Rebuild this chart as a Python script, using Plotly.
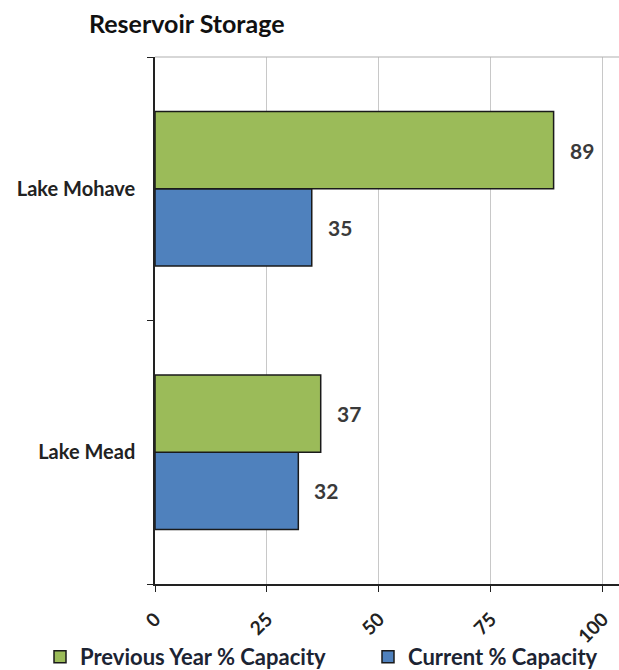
import plotly.graph_objects as go

# Reservoir storage, percent of capacity
reservoirs = ["Lake Mead", "Lake Mohave"]
previous_year = [37, 89]
current = [32, 35]
x_ticks = [0, 25, 50, 75, 100]

GREEN = "#9BBB59"
BLUE = "#4F81BD"
FONT = "Lato, 'Open Sans', sans-serif"

fig = go.Figure()
fig.add_trace(go.Bar(
    y=reservoirs, x=current, orientation="h", name="Current % Capacity",
    marker=dict(color=BLUE, line=dict(color="#1a1a1a", width=1.5)),
    legend="legend2",
))
fig.add_trace(go.Bar(
    y=reservoirs, x=previous_year, orientation="h", name="Previous Year % Capacity",
    marker=dict(color=GREEN, line=dict(color="#1a1a1a", width=1.5)),
    legend="legend",
))

# value labels beside each bar
offsets = {0: -0.147, 1: 0.147}
for ti, vals in enumerate([current, previous_year]):
    for ci, v in enumerate(vals):
        fig.add_annotation(
            x=v, y=ci + offsets[ti], xref="x", yref="y",
            text=str(v), showarrow=False, xanchor="left", xshift=12,
            bgcolor="white", borderpad=3,
            font=dict(family=FONT, size=21, color="#3a3a3a", weight="bold"),
        )

legend_style = dict(orientation="h", xref="container", yref="container",
                    xanchor="left", yanchor="middle", y=13 / 670, itemwidth=30,
                    bgcolor="rgba(0,0,0,0)",
                    font=dict(family=FONT, size=22, color="#1c2433", weight="bold"))

fig.update_layout(
    width=619, height=670,
    margin=dict(l=155, r=0, t=57, b=86, autoexpand=False),
    paper_bgcolor="white", plot_bgcolor="white",
    barmode="group", bargap=0.414, bargroupgap=0,
    showlegend=True,
    title=dict(text="<b>Reservoir Storage</b>", x=89 / 619, xanchor="left",
               y=1 - 24 / 670, yanchor="middle",
               font=dict(family=FONT, size=25, color="#111111")),
    legend=dict(legend_style, x=40 / 619),
    legend2=dict(legend_style, x=368 / 619),
    font=dict(family=FONT, color="#222222"),
)

fig.update_xaxes(
    range=[0, 103.6], tickvals=x_ticks, ticktext=[str(t) for t in x_ticks],
    tickangle=-45, ticks="outside", ticklen=6, tickcolor="#222222",
    showline=True, linecolor="#222222", linewidth=1.5,
    showgrid=True, gridcolor="#c8c8c8", gridwidth=1.2,
    zeroline=False, ticklabelstandoff=9,
    tickfont=dict(family=FONT, size=19, color="#222222", weight="bold"),
)
fig.update_yaxes(
    type="category", categoryarray=reservoirs, tickson="boundaries",
    ticks="outside", ticklen=6, tickcolor="#222222",
    showline=True, linecolor="#222222", linewidth=1.5,
    showgrid=False, ticklabelstandoff=14,
    tickfont=dict(family=FONT, size=20, color="#222222", weight="bold"),
)

# light border along the top of the plot area
fig.add_shape(type="line", xref="paper", yref="paper", x0=0, x1=1, y0=1, y1=1,
              line=dict(color="#b0b0b0", width=1.2))

fig.write_html("out.html")
